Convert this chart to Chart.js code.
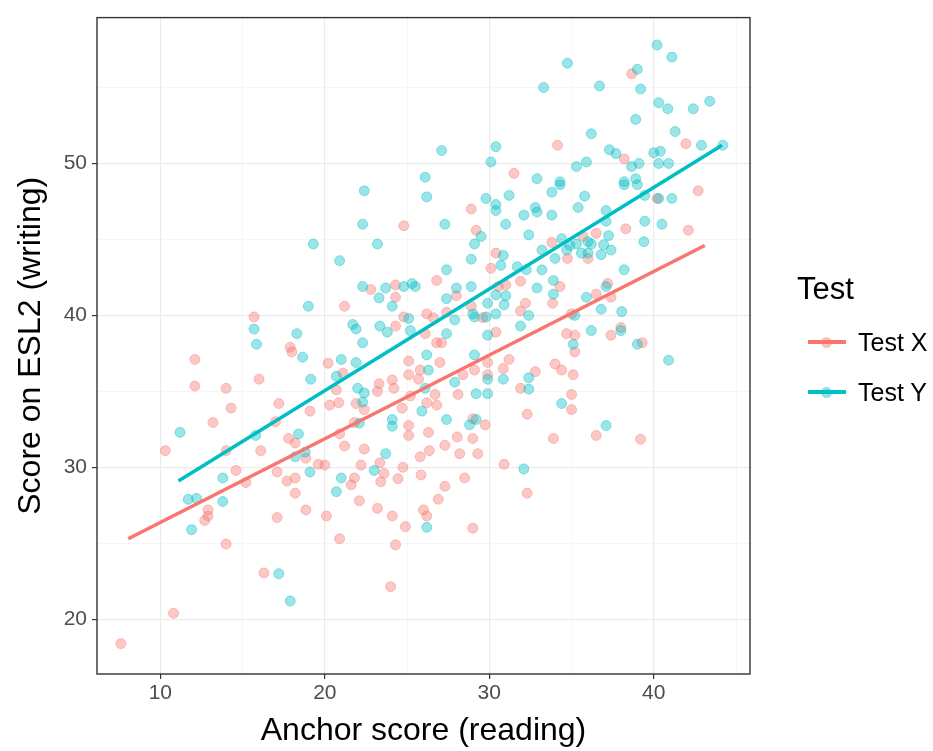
<!DOCTYPE html>
<html>
<head>
<meta charset="utf-8">
<script src="https://cdn.jsdelivr.net/npm/chart.js@4.4.0/dist/chart.umd.min.js"></script>
<style>
html, body { margin: 0; padding: 0; background: #fff; }
#wrap { position: relative; width: 933px; height: 751px; }
#legend { position: absolute; left: 0; top: 0; font-family: "Liberation Sans", Arial, sans-serif; color: #000; }
.lg { position: absolute; white-space: nowrap; }
.kline { position: absolute; height: 4px; }
.kdot { position: absolute; width: 11px; height: 11px; border-radius: 50%; }
</style>
</head>
<body>
<div id="wrap">
  <canvas id="myChart" width="933" height="751"></canvas>
  <div id="legend"></div>
</div>
<script>
// series names + colours (ggplot defaults)
const seriesNames = ['Test X', 'Test Y'];
const seriesColors = ['248, 118, 109', '0, 191, 196'];

// x axis / y axis
const xMin = 6.15, xMax = 45.85;
const yMin = 16.4, yMax = 59.6;
const xTicks = [10, 15, 20, 25, 30, 35, 40, 45]; // odd ones are minor
const yTicks = [20, 25, 30, 35, 40, 45, 50, 55];
const xLabels = [10, 20, 30, 40];
const yLabels = [20, 30, 40, 50];

// fitted lines (start, end)
const fitX = [[8.05, 25.3], [43.1, 44.6]];
const fitY = [[11.1, 29.1], [44.15, 51.2]];

// Test X points: [anchor, ESL2]
const testX = [
  [38.66,55.9],[34.15,51.2],[41.95,51.3],[38.2,50.3],[31.5,49.35],
  [15.7,39.9],[17.9,37.9],
  [28.9,47.0],[24.8,45.9],[29.2,45.6],[30.4,44.1],[30.1,43.1],[26.8,42.3],[31.9,42.25],
  [22.8,41.7],[24.3,42.0],[24.3,41.2],[21.2,40.6],[28.0,41.3],[28.9,40.6],[30.55,41.9],
  [31.0,42.0],[32.2,40.8],[31.9,40.3],[27.4,40.2],[29.6,39.85],[26.6,39.85],[26.2,40.1],
  [24.3,39.3],[24.8,39.9],[26.1,38.8],[30.4,38.9],[26.8,38.2],[27.1,38.2],
  [40.2,47.7],[42.7,48.2],[38.3,45.7],[42.1,45.6],[36.5,45.4],[33.8,44.8],[35.7,45.2],
  [34.75,43.75],[36.0,43.75],[34.3,41.9],[33.85,40.8],[37.2,42.1],[36.5,41.4],[37.4,41.2],
  [35.0,40.1],[38.0,39.2],[34.7,38.8],[35.2,38.7],[37.4,38.7],[39.3,38.2],
  [12.1,37.1],[12.1,35.35],[14.0,35.2],[16.0,35.8],[18.0,37.6],[14.3,33.9],[17.2,34.2],
  [19.1,33.7],[13.2,32.95],[17.0,33.0],[17.8,31.9],[18.2,31.6],[10.3,31.1],[14.0,31.1],
  [16.1,31.1],[18.85,30.6],[19.6,30.2],[14.6,29.8],[17.1,29.7],[17.7,29.1],[18.2,29.3],
  [15.2,29.0],[18.2,28.3],[12.9,27.2],[18.85,27.2],
  [12.7,26.5],[12.9,26.8],[14.0,24.95],[17.1,26.7],[16.3,23.05],[10.8,20.4],[7.6,18.4],
  [20.2,36.85],[21.1,36.2],[20.7,35.1],[23.3,35.5],[24.1,35.75],[24.2,35.2],[25.1,37.0],
  [25.1,36.1],[25.8,36.4],[27.0,36.9],[25.7,35.8],[23.2,35.0],[21.9,34.2],[22.4,33.8],
  [20.3,34.1],[20.85,34.25],[24.7,33.9],[25.2,34.7],[26.2,34.25],[26.8,34.1],[26.7,34.8],
  [28.1,34.8],[28.4,36.1],[29.1,36.4],[29.9,36.1],[29.9,36.9],[30.85,36.5],[31.2,37.1],
  [32.8,36.3],[31.9,35.2],[29.0,33.2],[29.75,32.8],[32.3,33.5],[21.8,32.95],[25.1,32.75],
  [25.1,32.1],[26.3,32.3],[20.9,32.2],[21.2,31.4],[22.4,31.2],[27.3,31.45],[28.05,32.0],
  [29.0,31.9],[28.2,30.9],[29.3,30.9],[26.35,31.1],[25.8,30.7],[20.0,30.15],[22.2,30.15],
  [23.35,30.3],[24.75,30.0],[23.6,29.6],[25.85,29.5],[30.9,30.2],[21.8,29.3],[21.6,28.85],
  [23.4,29.05],[24.45,29.25],[27.3,28.75],[28.5,29.3],[32.3,28.3],[22.1,27.8],[26.9,27.9],
  [23.2,27.3],[26.0,27.2],
  [20.1,26.8],[24.1,26.8],[24.9,26.1],[26.2,26.8],[29.0,26.0],[20.9,25.3],[24.3,24.9],[24.0,22.15],
  [34.0,36.8],[34.4,36.4],[35.1,36.1],[35.2,37.6],[35.0,34.8],[35.0,33.8],[36.5,32.1],
  [33.9,31.9],[39.2,31.85]
];

// Test Y points: [anchor, ESL2]
const testY = [
  [40.2,57.8],[41.1,57.0],[34.75,56.6],[39.0,56.2],[39.2,54.9],[36.7,55.1],[33.3,55.0],
  [40.3,54.0],[40.85,53.6],[42.4,53.6],[43.4,54.1],[38.9,52.9],[36.2,51.95],[41.3,52.1],
  [42.9,51.2],[44.2,51.2],[37.3,50.9],[37.7,50.65],[40.0,50.7],[40.4,50.8],[35.9,50.1],
  [35.3,49.8],[39.1,50.0],[38.65,49.8],[40.3,50.0],[40.9,50.0],[34.3,48.8],[38.2,48.8],[38.9,49.0],
  [27.1,50.85],[30.4,51.1],[30.1,50.1],[32.9,49.0],[26.1,49.1],
  [19.3,44.7],[19.0,40.6],[15.7,39.1],[18.3,38.8],[15.85,38.1],
  [22.4,48.2],[26.2,47.8],[29.8,47.7],[30.4,47.3],[30.4,46.9],[31.2,47.9],[32.1,46.6],
  [32.8,47.1],[32.9,46.8],[22.3,46.0],[27.3,46.0],[29.5,45.2],[29.1,44.7],[31.0,46.0],
  [32.4,45.3],[23.2,44.7],[20.9,43.6],[28.9,43.7],[30.85,43.95],[30.7,43.3],[27.4,43.0],
  [31.7,43.2],[32.25,43.0],[33.2,44.3],[33.2,43.0],[32.9,41.8],[22.3,41.9],[23.7,41.8],
  [24.8,41.9],[25.3,42.1],[25.5,41.9],[23.3,41.15],[24.1,40.6],[28.0,41.8],[28.9,41.9],
  [27.4,41.1],[29.9,40.8],[30.4,41.35],[31.0,41.3],[30.9,40.7],[32.4,40.0],[29.0,40.1],
  [29.1,39.9],[29.8,39.9],[30.4,40.1],[27.9,39.7],[21.7,39.4],[21.9,39.1],[23.35,39.3],
  [23.8,38.9],[25.1,39.8],[25.2,39.0],[27.4,38.8],[29.9,38.7],[31.9,39.3],[22.3,38.2],
  [34.3,48.6],[33.8,48.1],[35.8,47.85],[35.4,47.1],[38.2,48.6],[39.0,48.6],[39.45,47.9],
  [40.3,47.7],[41.1,47.7],[33.8,46.6],[37.1,46.9],[37.1,46.2],[39.45,46.2],[40.5,46.0],
  [37.25,45.25],[34.4,45.05],[34.9,44.6],[35.3,44.7],[36.0,44.85],[36.2,44.7],[36.95,44.65],
  [37.4,44.3],[39.4,44.85],[34.7,44.3],[34.0,43.75],[35.6,44.1],[36.0,44.1],[36.8,44.0],
  [38.2,43.0],[33.9,42.3],[33.9,41.4],[37.1,41.9],[35.9,41.2],[36.8,40.4],[35.2,40.0],
  [38.05,40.25],[38.0,39.0],[36.2,39.0],[35.1,38.1],[39.0,38.1],
  [18.65,37.25],[19.15,35.8],[11.2,32.3],[15.8,32.1],[18.4,32.2],[18.2,30.7],[18.8,31.0],
  [19.1,29.7],[13.8,29.3],[11.7,27.9],[12.2,27.95],[13.8,27.75],
  [11.9,25.9],[17.2,23.0],[17.9,21.2],
  [21.0,37.1],[21.9,36.9],[20.7,36.0],[22.0,35.2],[22.4,34.9],[26.3,36.4],[26.1,35.2],
  [26.2,37.4],[22.3,34.3],[25.9,33.7],[27.9,35.6],[29.9,35.8],[29.1,37.4],[30.85,35.8],
  [32.4,35.9],[32.4,35.15],[29.2,34.85],[29.9,34.85],[27.4,33.15],[28.8,32.8],[29.2,33.15],
  [22.1,32.9],[24.1,33.15],[24.1,32.7],[23.7,30.9],[23.0,29.8],[32.1,29.9],[21.0,29.3],[20.7,28.4],
  [26.2,26.05],
  [40.9,37.05],[34.4,34.2],[37.1,32.75]
];

const FONT = '"Liberation Sans", Arial, sans-serif';
const toXY = arr => arr.map(p => ({ x: p[0], y: p[1] }));
const rgba = (c, a) => `rgba(${c}, ${a})`;

// panel border like theme_bw
const panelBorder = {
  id: 'panelBorder',
  afterDatasetsDraw(chart) {
    const { ctx, chartArea: a } = chart;
    ctx.save();
    ctx.strokeStyle = '#333333';
    ctx.lineWidth = 1.4;
    ctx.strokeRect(a.left, a.top, a.right - a.left, a.bottom - a.top);
    ctx.restore();
  }
};

function gridOpts(majors) {
  return {
    color: c => majors.includes(c.tick.value) ? '#EBEBEB' : '#F4F4F4',
    lineWidth: c => majors.includes(c.tick.value) ? 1.2 : 0.8,
    tickColor: c => majors.includes(c.tick.value) ? '#333333' : 'rgba(0,0,0,0)',
    tickLength: 5,
    tickWidth: 1.2
  };
}

const ctx = document.getElementById('myChart');
const myChart = new Chart(ctx, {
  type: 'scatter',
  data: {
    datasets: [
      {
        type: 'line', label: 'fitX', data: toXY(fitX),
        borderColor: rgba(seriesColors[0], 1), borderWidth: 3.6,
        pointRadius: 0, fill: false
      },
      {
        type: 'line', label: 'fitY', data: toXY(fitY),
        borderColor: rgba(seriesColors[1], 1), borderWidth: 3.6,
        pointRadius: 0, fill: false
      },
      {
        label: seriesNames[1], data: toXY(testY),
        backgroundColor: rgba(seriesColors[1], 0.4),
        borderColor: rgba(seriesColors[1], 0.4),
        borderWidth: 1, pointRadius: 5
      },
      {
        label: seriesNames[0], data: toXY(testX),
        backgroundColor: rgba(seriesColors[0], 0.4),
        borderColor: rgba(seriesColors[0], 0.4),
        borderWidth: 1, pointRadius: 5
      }
    ]
  },
  options: {
    responsive: false,
    animation: false,
    layout: { padding: { top: 11, right: 183, left: 0, bottom: 0 } },
    plugins: { legend: { display: false }, tooltip: { enabled: false } },
    scales: {
      x: {
        type: 'linear', min: xMin, max: xMax,
        afterBuildTicks: s => { s.ticks = xTicks.map(v => ({ value: v })); },
        afterFit: s => { s.height = 77; },
        ticks: {
          autoSkip: false, maxRotation: 0, padding: 2,
          color: '#4D4D4D', font: { family: FONT, size: 21 },
          callback: v => xLabels.includes(v) ? String(v) : ''
        },
        grid: gridOpts(xLabels),
        border: { display: false },
        title: {
          display: true, text: 'Anchor score (reading)', color: '#000',
          font: { family: FONT, size: 32 }, padding: { top: 0, bottom: 1 }
        }
      },
      y: {
        type: 'linear', min: yMin, max: yMax,
        afterBuildTicks: s => { s.ticks = yTicks.map(v => ({ value: v })); },
        afterFit: s => { s.width = 97; },
        ticks: {
          autoSkip: false, padding: 5,
          color: '#4D4D4D', font: { family: FONT, size: 21 },
          callback: v => yLabels.includes(v) ? String(v) : ''
        },
        grid: gridOpts(yLabels),
        border: { display: false },
        title: {
          display: true, text: 'Score on ESL2 (writing)', color: '#000',
          font: { family: FONT, size: 32 }, padding: { top: 12, bottom: 0 }
        }
      }
    }
  },
  plugins: [panelBorder]
});

// legend (ggplot style, built from the series arrays)
const lg = document.getElementById('legend');
let html = `<div class="lg" style="left:797px;top:271px;font-size:31px;line-height:36px;">Test</div>`;
seriesNames.forEach((name, i) => {
  const cy = 342 + i * 50;
  html += `<div class="kline" style="left:808px;top:${cy - 2}px;width:38px;background:${rgba(seriesColors[i], 1)};"></div>`;
  html += `<div class="kdot" style="left:821px;top:${cy - 5.5}px;background:${rgba(seriesColors[i], 0.45)};"></div>`;
  html += `<div class="lg" style="left:858px;top:${cy - 14}px;font-size:25px;line-height:28px;">${name}</div>`;
});
lg.innerHTML = html;
</script>
</body>
</html>
